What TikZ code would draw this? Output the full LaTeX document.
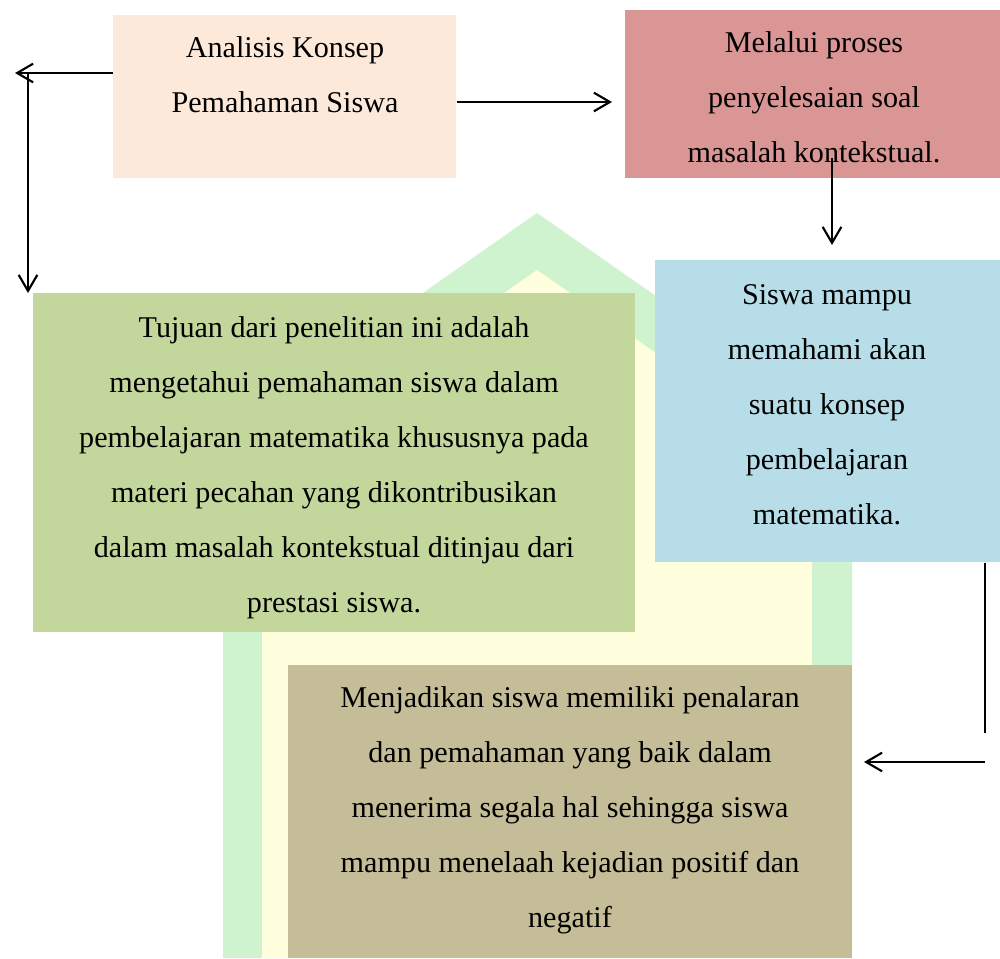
\documentclass[tikz,border=0pt]{standalone}
\usepackage{fontspec}
\setmainfont{Liberation Serif}
\usetikzlibrary{arrows.meta}
\definecolor{peach}{HTML}{FCE9DA}
\definecolor{rosebox}{HTML}{D99694}
\definecolor{bluebox}{HTML}{B7DDE8}
\definecolor{greenbox}{HTML}{C3D69B}
\definecolor{tanbox}{HTML}{C4BD97}
\definecolor{wmgreen}{HTML}{CFF2CF}
\definecolor{wmyellow}{HTML}{FFFFDE}
\begin{document}
\begin{tikzpicture}[x=0.75pt,y=-0.75pt,
  box/.style={draw=none,inner sep=0pt,anchor=north west},
  label/.style={anchor=north,inner sep=0pt,align=center,font={\fontsize{22.6}{41.25}\selectfont}},
  arr/.style={line width=1.6pt,-{Straight Barb[length=12pt,width=14pt,line width=1.6pt]}},
  plain/.style={line width=1.6pt}]
\useasboundingbox (0,0) rectangle (1000,958);
\fill[white] (0,0) rectangle (1000,958);
% watermark
\fill[wmgreen] (223,958) -- (223,433) -- (537,213) -- (852,433) -- (852,958) -- cycle;
\fill[wmyellow] (262,958) -- (262,462) -- (537,270) -- (812,462) -- (812,958) -- cycle;
% boxes
\node[box,fill=peach,minimum width=257.25pt,minimum height=122.25pt] (peach) at (113,15) {};
\node[box,fill=rosebox,minimum width=281.25pt,minimum height=126pt] (red) at (625,10) {};
\node[box,fill=bluebox,minimum width=258.75pt,minimum height=226.5pt] (blue) at (655,260) {};
\node[box,fill=greenbox,minimum width=451.5pt,minimum height=254.25pt] (green) at (33,293) {};
\node[box,fill=tanbox,minimum width=423pt,minimum height=219.75pt] (tan) at (288,665) {};
% texts
\node[label] (tpeach) at (285,36) {Analisis Konsep\\Pemahaman Siswa};
\node[label] (tred) at (814,31) {Melalui proses\\penyelesaian soal\\masalah kontekstual.};
\node[label] (tblue) at (827,284) {Siswa mampu\\memahami akan\\suatu konsep\\pembelajaran\\matematika.};
\node[label] (tgreen) at (334,316) {Tujuan dari penelitian ini adalah\\mengetahui pemahaman siswa dalam\\pembelajaran matematika khususnya pada\\materi pecahan yang dikontribusikan\\dalam masalah kontekstual ditinjau dari\\prestasi siswa.};
\node[label] (ttan) at (570,686) {Menjadikan siswa memiliki penalaran\\dan pemahaman yang baik dalam\\menerima segala hal sehingga siswa\\mampu menelaah kejadian positif dan\\negatif};
% connectors
\coordinate (c1) at (15,73);
\coordinate (c2) at (28,73);
\coordinate (c3) at (612,102);
\coordinate (c4) at (832,158);
\coordinate (c5) at (832,245);
\coordinate (c6) at (985,733);
\coordinate (c7) at (985,762);
\coordinate (c8) at (864,762);
\draw[arr] (peach.west |- c1) -- (c1);
\draw[arr] (c2) -- (c2 |- green.north);
\draw[arr] (peach.east |- c3) -- (c3);
\draw[arr] (c4) -- (c5);
\draw[plain] (blue.south -| c6) -- (c6);
\draw[arr] (c7) -- (c8);
\end{tikzpicture}
\end{document}
